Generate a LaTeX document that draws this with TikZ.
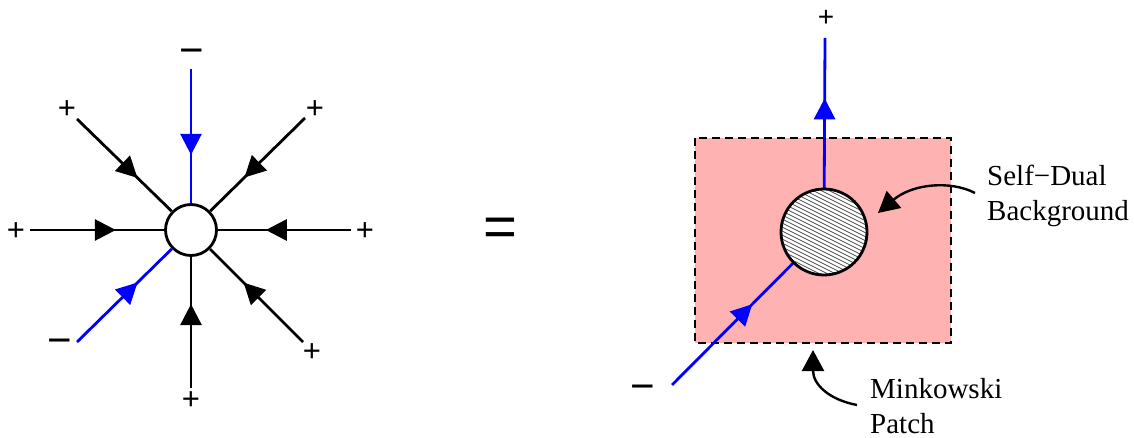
\documentclass[tikz,border=0pt]{standalone}
\usepackage{fontspec}
\setmainfont{Liberation Serif}
\newfontfamily\labfont{Liberation Sans}
\usetikzlibrary{arrows.meta,decorations.markings}
\definecolor{patchpink}{RGB}{255,178,178}
\definecolor{hatchgray}{RGB}{80,80,80}
\tikzset{
  spoke/.style={line width=2.8pt, line cap=butt},
  midarrow/.style={postaction={decorate}, decoration={markings,
     mark=at position #1 with {\arrow{Triangle[length=21pt,width=21pt]}}}},
  pm/.style={font=\labfont\fontsize{31}{31}\selectfont, inner sep=0pt},
  mn/.style={font=\labfont\fontsize{42}{42}\selectfont, inner sep=0pt},
  vertex/.style={circle, draw, line width=2.8pt, fill=white, inner sep=0pt, minimum size=51pt},
  caption/.style={font=\fontsize{29}{35}\selectfont, align=left, inner sep=0pt, anchor=north west},
  pointer/.style={line width=2.4pt, -{Triangle[length=21pt,width=22pt]}},
}
\begin{document}
\begin{tikzpicture}[x=1pt,y=-1pt]
\useasboundingbox (0,0) rectangle (1134,438);
% ---------- left vertex ----------
\node[vertex] (L) at (191,230) {};
\coordinate (pN)  at (191,69);
\coordinate (pNE) at (305,118);
\coordinate (pE)  at (351,230);
\coordinate (pSE) at (303,342);
\coordinate (pS)  at (191,388);
\coordinate (pSW) at (77,342);
\coordinate (pW)  at (30,230);
\coordinate (pNW) at (77,119);
\draw[spoke, blue, midarrow=0.64] (pN) -- (L);
\draw[spoke, midarrow=0.64] (pNE) -- (L);
\draw[spoke, midarrow=0.64] (pE) -- (L);
\draw[spoke, midarrow=0.64] (pSE) -- (L);
\draw[spoke, midarrow=0.64] (pS) -- (L);
\draw[spoke, blue, midarrow=0.64] (pSW) -- (L);
\draw[spoke, midarrow=0.64] (pW) -- (L);
\draw[spoke, midarrow=0.64] (pNW) -- (L);
\node[mn] (lN)  at (192,57) {−};
\node[pm] (lNE) at (315,110) {+};
\node[pm] (lE)  at (365,232) {+};
\node[pm] (lSE) at (312,353) {+};
\node[pm] (lS)  at (191,401) {+};
\node[mn] (lSW) at (60,347) {−};
\node[pm] (lW)  at (16,232) {+};
\node[pm] (lNW) at (67,110) {+};
% ---------- equals ----------
\node[font=\labfont\fontsize{58}{58}\selectfont, inner sep=0pt] (eq) at (500,232) {=};
% ---------- right side ----------
\fill[patchpink] (695,138) rectangle (951,343);
\draw[line width=2.4pt, dash pattern=on 8pt off 5pt] (695,138) rectangle (951,343);
\node[circle, fill=white, inner sep=0pt, minimum size=86pt] (R) at (824,232) {};
\coordinate (rT) at (825,38);
\coordinate (rB) at (672,385);
\draw[spoke, blue, midarrow=0.60] (R) -- (rT);
\draw[spoke, blue, midarrow=0.66] (rB) -- (R);
\begin{scope}
  \clip (R.center) circle[radius=43pt];
  \foreach \i in {-20,...,20}{
    \draw[hatchgray, line width=0.8pt] (774,{232+4*\i-25}) -- (874,{232+4*\i+25});
  }
\end{scope}
\draw[line width=2.8pt] (R.center) circle[radius=43pt];
\node[pm, font=\labfont\fontsize{28}{28}\selectfont] (rP) at (826,18) {+};
\node[mn] (rM) at (643,393) {−};
% captions
\node[caption] (sd) at (987,165) {Self−Dual\\Background};
\node[caption] (mk) at (870,378) {Minkowski\\Patch};
\coordinate (sdA) at (975,193);
\coordinate (sdT) at (878,213);
\draw[pointer] (sdA) .. controls (950,180) and (912,184) .. (sdT);
\coordinate (mkA) at (857,405);
\coordinate (mkT) at (813,350);
\draw[pointer] (mkA) .. controls (830,400) and (813,385) .. (mkT);
\end{tikzpicture}
\end{document}
